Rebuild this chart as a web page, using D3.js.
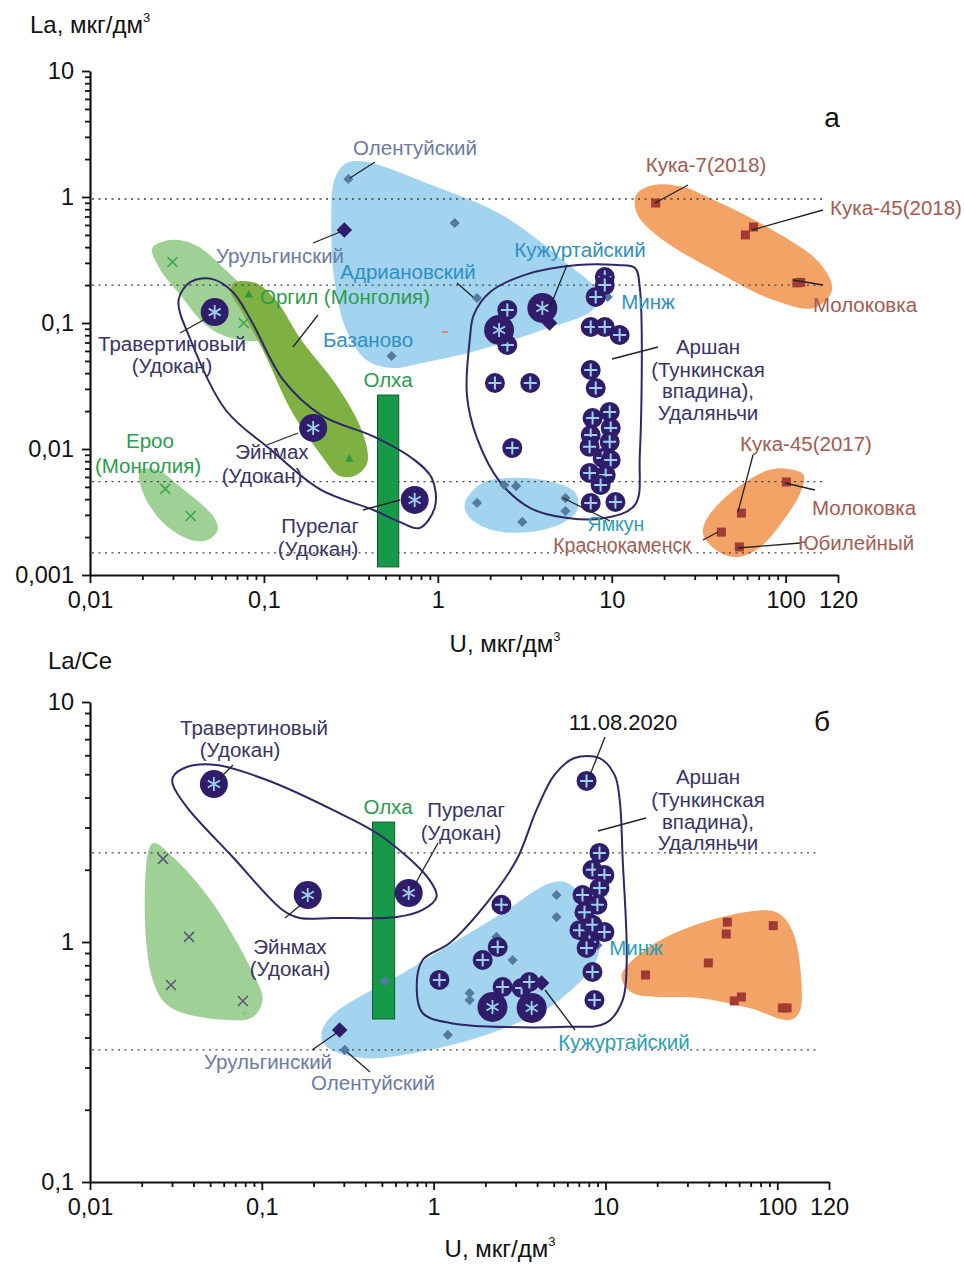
<!DOCTYPE html>
<html>
<head>
<meta charset="utf-8">
<script src="https://cdn.jsdelivr.net/npm/d3@7"></script>
<style>
  body { margin: 0; background: #fff; }
  svg text { font-family: "Liberation Sans", Arial, sans-serif; }
</style>
</head>
<body>
<svg id="chart" width="964" height="1265"></svg>
<script>
// ---------- axes ----------
const uTicks = [0.01, 0.1, 1, 10, 100, 200];
const uTickLabels = ["0,01", "0,1", "1", "10", "100", "120"];
const laTicks = [0.001, 0.01, 0.1, 1, 10];
const laTickLabels = ["0,001", "0,01", "0,1", "1", "10"];
const ratioTicks = [0.1, 1, 10];
const ratioTickLabels = ["0,1", "1", "10"];

// ---------- panel a: La vs U ----------
const aArshan = [[9.12,0.232],[9.12,0.200],[8.09,0.161],[2.51,0.127],[2.51,0.0669],[7.57,0.0929],[9.12,0.0929],
  [11.1,0.0803],[2.13,0.0334],[3.40,0.0334],[7.57,0.0424],[8.09,0.0305],[9.73,0.0197],[7.76,0.0176],[9.86,0.0147],
  [7.57,0.0129],[9.73,0.0114],[7.46,0.0104],[8.87,0.00849],[9.86,0.00818],[7.46,0.00645],[9.23,0.00622],
  [8.63,0.00518],[2.68,0.0102],[7.57,0.00373],[10.5,0.00380]];
const aUdokan = [[0.0521,0.122],[0.192,0.0147],[0.736,0.00394]];
const aBigAst = [[2.25,0.088],[3.99,0.1315]];
const aDiamonds = [[0.306,1.39],[1.25,0.622],[1.68,0.158],[0.542,0.0547],[9.48,0.161],[2.41,0.00518],
  [2.82,0.00508],[1.68,0.00373],[5.42,0.00408],[5.42,0.00322],[3.06,0.00264]];
const aDarkDiamonds = [[0.290,0.547],[4.39,0.100]];
const aErooX = [[0.0298,0.305],[0.0766,0.100],[0.0271,0.00482],[0.0379,0.00294]];
const aOrgilTri = [[0.0818,0.167],[0.310,0.0083]];
const aSquares = [[17.9,0.896],[58.7,0.50],[65.3,0.578],[116,0.208],[122,0.21],
  [101,0.00547],[55.7,0.0031],[42.7,0.00219],[54.2,0.00167]];
const aDash = [[1.10,0.0849]];
const aOlkhaU = [0.45, 0.596];
const aOlkhaLa = [0.00116, 0.0268];
const aRefLines = [0.964, 0.2, 0.0055, 0.0015];

const aBlueBig = [[0.254,1.364],[0.298,1.86],[0.389,1.90],[0.923,1.245],[2.34,0.72],[5.21,0.316],[8.53,0.167],
  [7.76,0.127],[3.99,0.088],[1.57,0.0589],[0.809,0.0482],[0.542,0.0439],[0.389,0.0508],[0.298,0.088],[0.254,0.219],[0.244,0.657]];
const aBlueYamkun = [[1.43,0.00373],[1.80,0.00537],[2.57,0.00589],[4.56,0.00547],[6.19,0.00448],[6.35,0.00328],
  [5.21,0.00259],[3.36,0.00219],[2.05,0.00228],[1.51,0.00289]];
const aGreenUpper = [[0.0228,0.394],[0.0290,0.456],[0.0404,0.416],[0.0603,0.264],[0.0899,0.152],[0.117,0.088],
  [0.0961,0.0733],[0.0645,0.076],[0.0462,0.0964],[0.0331,0.167],[0.0254,0.264]];
const aGreenEroo = [[0.0194,0.00681],[0.0244,0.00681],[0.0331,0.00499],[0.0514,0.00289],[0.0542,0.00228],
  [0.0474,0.0019],[0.0379,0.0019],[0.0264,0.00259],[0.0202,0.00448]];
const aOrgil = [[0.0671,0.208],[0.0899,0.208],[0.117,0.152],[0.164,0.0733],[0.261,0.0322],[0.364,0.0142],
  [0.394,0.00789],[0.340,0.00622],[0.272,0.0061],[0.213,0.00896],[0.143,0.0204],[0.0986,0.0611],[0.0736,0.127],[0.0645,0.176]];
const aOrangeUpper = [[13.8,1.037],[17.3,1.245],[26,1.2],[33.6,1.037],[74.6,0.60],[155,0.305],[185,0.183],
  [145,0.1315],[85.3,0.152],[38.4,0.264],[19.7,0.456],[14.1,0.72]];
const aOrangeLower = [[127,0.00622],[104,0.00694],[79.7,0.00681],[48.1,0.00448],[34.9,0.00273],[33.6,0.00208],
  [42.1,0.0015],[53.5,0.00139],[71.6,0.00167],[97.3,0.00273],[122,0.00456]];
const aUdokanOutline = [[0.0323,0.152],[0.0379,0.212],[0.0507,0.223],[0.0662,0.176],[0.0841,0.1057],[0.129,0.0353],
  [0.213,0.0186],[0.432,0.0125],[0.708,0.00849],[0.923,0.00589],[0.962,0.00347],[0.787,0.00236],[0.603,0.00264],
  [0.427,0.00328],[0.213,0.00473],[0.110,0.00982],[0.0603,0.0204],[0.0379,0.0733]];
const aArshanOutline = [[1.61,0.116],[2.00,0.176],[3.14,0.240],[6.35,0.288],[10.8,0.288],[13.6,0.273],[14.5,0.190],
  [14.5,0.00896],[13.6,0.0036],[9.12,0.00283],[5.57,0.00283],[3.40,0.0034],[2.28,0.00547],[1.68,0.0122],[1.47,0.0268],[1.53,0.076]];

// ---------- panel b: La/Ce vs U ----------
const bArshan = [[7.76,4.69],[9.23,2.35],[8.40,2.0],[9.86,1.90],[9.23,1.68],[7.35,1.57],[8.98,1.43],[7.55,1.33],
  [7.06,1.12],[8.40,1.18],[9.86,1.10],[8.07,1.0],[7.76,0.944],[2.48,1.43],[2.36,0.953],[1.93,0.841],[1.08,0.695],
  [2.52,0.649],[3.25,0.643],[3.61,0.681],[8.40,0.75],[8.63,0.573]];
const bUdokan = [[0.0526,4.55],[0.185,1.57],[0.716,1.60]];
const bBigAst = [[2.20,0.536],[3.72,0.531]];
const bDiamonds = [[5.19,1.57],[5.19,1.27],[2.32,1.05],[2.88,0.841],[1.62,0.613],[1.62,0.573],[1.21,0.41],
  [0.519,0.688],[8.98,0.97],[0.304,0.355]];
const bDarkDiamonds = [[0.284,0.43],[4.25,0.675]];
const bErooX = [[0.0266,2.22],[0.0377,1.05],[0.0296,0.662],[0.0776,0.568]];
const bSmallPlus = [[0.0794,0.506]];
const bSquares = [[51.2,1.21],[50.5,1.08],[94.8,1.17],[39.7,0.818],[17.1,0.729],[56.2,0.568],[61.8,0.59],[107,0.531],[114,0.531]];
const bOlkhaU = [0.441, 0.593];
const bOlkhaR = [0.478, 3.16];
const bRefLines = [2.35, 0.355];

const bGreen = [[0.0232,2.58],[0.0209,1.69],[0.0232,0.695],[0.0292,0.536],[0.0627,0.473],[0.0887,0.487],
  [0.101,0.573],[0.0887,0.743],[0.0519,1.45],[0.0304,2.26]];
const bBlue = [[0.223,0.422],[0.266,0.506],[0.634,0.729],[1.24,0.971],[2.42,1.30],[5.05,1.78],[6.60,1.68],
  [9.23,0.926],[5.41,0.573],[2.42,0.43],[0.948,0.355],[0.372,0.329],[0.232,0.372]];
const bOrange = [[12.4,0.715],[13.8,0.818],[22.6,1.05],[54.7,1.30],[98.6,1.33],[122,1.12],[138,0.695],
  [134,0.506],[117,0.473],[68.7,0.531],[35.2,0.585],[14.4,0.613]];
const bUdokanOutline = [[0.0304,4.87],[0.0366,5.36],[0.0547,5.46],[0.107,4.73],[0.259,3.55],[0.505,2.74],
  [0.948,1.81],[1.04,1.54],[0.862,1.36],[0.609,1.27],[0.259,1.26],[0.166,1.26],[0.132,1.36],[0.0677,2.26],[0.0366,3.65],[0.0304,4.51]];
const bArshanOutline = [[6.60,5.84],[9.23,5.84],[11.3,4.97],[12.1,3.91],[12.6,2.20],[13.3,0.841],[12.6,0.573],
  [10.1,0.46],[5.93,0.443],[1.24,0.46],[0.862,0.506],[0.797,0.649],[0.862,0.841],[1.24,0.99],[2.03,1.45],[3.04,2.20],[3.97,3.55],[5.05,4.97]];

// ---------- colours ----------
const navy = "#2f1d6c", crossBlue = "#9fd0ee", slate = "#557aa0", brick = "#a23b33";
const cBlue = "#a3d4ef", cLightGreen = "#9fd196", cOrgil = "#7fb142", cOrange = "#f4a367", cOlkha = "#17994a";
const tGray = "#6b7aa3", tBlue = "#2f8fc4", tGreen = "#2a9d4b", tDark = "#3a3366", tBrick = "#a65a50", tTeal = "#2a9fb5";

const svg = d3.select("#chart");

function drawPanel(cfg) {
  const x = d3.scaleLog().domain([0.01, 200]).range(cfg.xRange);
  const y = d3.scaleLog().domain(cfg.yDomain).range(cfg.yRange);
  const g = svg.append("g");
  const P = d => [x(d[0]), y(d[1])];
  const blob = d3.line().curve(d3.curveCatmullRomClosed.alpha(0.5));

  cfg.regions.forEach(r => {
    g.append("path").attr("d", blob(r.pts.map(P))).attr("fill", r.fill);
  });

  // dotted reference lines
  g.selectAll(".ref").data(cfg.refLines).enter().append("line")
    .attr("x1", x(0.01) + 2).attr("x2", x(170))
    .attr("y1", d => y(d)).attr("y2", d => y(d))
    .attr("stroke", "#444").attr("stroke-width", 1.3).attr("stroke-dasharray", "2,4.5");

  // Olkha bar
  g.append("rect")
    .attr("x", x(cfg.olkhaU[0])).attr("width", x(cfg.olkhaU[1]) - x(cfg.olkhaU[0]))
    .attr("y", y(cfg.olkhaV[1])).attr("height", y(cfg.olkhaV[0]) - y(cfg.olkhaV[1]))
    .attr("fill", cOlkha).attr("stroke", "#0d5a2b").attr("stroke-width", 1);

  cfg.outlines.forEach(o => {
    g.append("path").attr("d", blob(o.map(P))).attr("fill", "none")
      .attr("stroke", "#2e2866").attr("stroke-width", 2);
  });

  const sym = (type, size) => d3.symbol().type(type).size(size)();

  // square diamonds (rotated squares)
  g.selectAll(".dia").data(cfg.diamonds).enter().append("rect")
    .attr("x", -3.6).attr("y", -3.6).attr("width", 7.2).attr("height", 7.2).attr("fill", slate)
    .attr("transform", d => `translate(${P(d)}) rotate(45)`);

  g.selectAll(".sq").data(cfg.squares).enter().append("rect")
    .attr("x", d => x(d[0]) - 4.5).attr("y", d => y(d[1]) - 4.5)
    .attr("width", 9).attr("height", 9).attr("fill", brick);

  g.selectAll(".tri").data(cfg.triangles || []).enter().append("path")
    .attr("d", sym(d3.symbolTriangle, 32)).attr("fill", "#2a9a3c")
    .attr("transform", d => `translate(${P(d)})`);

  g.selectAll(".dash").data(cfg.dashes || []).enter().append("line")
    .attr("x1", d => x(d[0]) - 3).attr("x2", d => x(d[0]) + 3)
    .attr("y1", d => y(d[1])).attr("y2", d => y(d[1]))
    .attr("stroke", "#e08a50").attr("stroke-width", 2);

  const xm = g.selectAll(".xm").data(cfg.crosses).enter().append("g")
    .attr("transform", d => `translate(${P(d)})`);
  xm.append("path").attr("d", "M-5,-5L5,5M-5,5L5,-5")
    .attr("stroke", cfg.crossColor).attr("stroke-width", 1.6);

  g.selectAll(".sp").data(cfg.smallPlus || []).enter().append("path")
    .attr("d", "M-3,0H3M0,-3V3").attr("stroke", "#8fbf80").attr("stroke-width", 1)
    .attr("transform", d => `translate(${P(d)})`);

  // Arshan circles with plus
  const cp = g.selectAll(".cp").data(cfg.arshan).enter().append("g")
    .attr("transform", d => `translate(${P(d)})`);
  cp.append("circle").attr("r", 10).attr("fill", navy);
  cp.append("path").attr("d", "M-6.5,0H6.5M0,-6.5V6.5").attr("stroke", crossBlue).attr("stroke-width", 2);

  // big circles with asterisk (ж)
  const ast = "M0,-7V7M-6,-3.5L6,3.5M-6,3.5L6,-3.5";
  const ca = g.selectAll(".ca").data(cfg.udokan.concat(cfg.bigAst)).enter().append("g")
    .attr("transform", d => `translate(${P(d)})`);
  ca.append("circle").attr("r", (d, i) => i < cfg.udokan.length ? 14 : 15).attr("fill", navy);
  ca.append("path").attr("d", ast).attr("stroke", crossBlue).attr("stroke-width", 1.8);

  g.selectAll(".dd").data(cfg.darkDiamonds).enter().append("rect")
    .attr("x", -5.5).attr("y", -5.5).attr("width", 11).attr("height", 11).attr("fill", navy)
    .attr("transform", d => `translate(${P(d)}) rotate(45)`);

  // axes
  const fmtX = v => uTickLabels[uTicks.indexOf(v)];
  const fmtY = v => cfg.yLabels[cfg.yTicks.indexOf(v)];
  const minor = (lo, hi) => {
    const out = [];
    for (let d = lo; d < hi; d *= 10) for (let k = 2; k <= 9; k++) out.push(d * k);
    return out;
  };
  const y0 = cfg.yRange[0];
  g.append("g").attr("transform", `translate(0,${y0})`)
    .call(d3.axisBottom(x).tickValues(uTicks).tickFormat(fmtX).tickSize(8).tickSizeOuter(0).tickPadding(8));
  g.append("g").attr("transform", `translate(0,${y0})`)
    .call(d3.axisBottom(x).tickValues(minor(0.01, 100)).tickFormat("").tickSize(5).tickSizeOuter(0))
    .select(".domain").remove();
  g.append("g").attr("transform", `translate(${cfg.xRange[0]},0)`)
    .call(d3.axisLeft(y).tickValues(cfg.yTicks).tickFormat(fmtY).tickSize(8).tickSizeOuter(0).tickPadding(8));
  g.append("g").attr("transform", `translate(${cfg.xRange[0]},0)`)
    .call(d3.axisLeft(y).tickValues(minor(cfg.yDomain[0], cfg.yDomain[1])).tickFormat("").tickSize(5).tickSizeOuter(0))
    .select(".domain").remove();
  g.selectAll(".domain").attr("stroke", "#111").attr("stroke-width", 2.2);
  g.selectAll(".tick line").attr("stroke", "#111").attr("stroke-width", 1.8);
  g.selectAll(".tick text").attr("font-size", 23.5).attr("fill", "#111")
    .attr("font-family", "'Liberation Sans', Arial, sans-serif");

  // leader lines and labels
  g.selectAll(".lead").data(cfg.leaders).enter().append("line")
    .attr("x1", d => d[0]).attr("y1", d => d[1]).attr("x2", d => d[2]).attr("y2", d => d[3])
    .attr("stroke", "#222").attr("stroke-width", 1.3);
  g.selectAll(".lab").data(cfg.labels).enter().append("text")
    .attr("x", d => d[1]).attr("y", d => d[2]).attr("fill", d => d[3])
    .attr("font-size", d => d[4] || 20.5).attr("text-anchor", "middle").text(d => d[0]);

  cfg.titles.forEach(t => {
    const tx = g.append("text").attr("x", t.x).attr("y", t.y).attr("font-size", 24)
      .attr("fill", "#111").attr("text-anchor", t.anchor);
    tx.append("tspan").text(t.text);
    if (t.sup) tx.append("tspan").attr("font-size", 13).attr("dy", -11).text(t.sup);
  });
}

drawPanel({
  xRange: [90, 838], yDomain: [0.001, 10], yRange: [575, 71],
  yTicks: laTicks, yLabels: laTickLabels,
  regions: [
    { pts: aBlueBig, fill: cBlue }, { pts: aBlueYamkun, fill: cBlue },
    { pts: aGreenUpper, fill: cLightGreen }, { pts: aGreenEroo, fill: cLightGreen },
    { pts: aOrgil, fill: cOrgil }, { pts: aOrangeUpper, fill: cOrange }, { pts: aOrangeLower, fill: cOrange }
  ],
  refLines: aRefLines, olkhaU: aOlkhaU, olkhaV: aOlkhaLa,
  outlines: [aUdokanOutline, aArshanOutline],
  diamonds: aDiamonds, squares: aSquares, triangles: aOrgilTri, dashes: aDash,
  crosses: aErooX, crossColor: "#3aa84e",
  arshan: aArshan, udokan: aUdokan, bigAst: aBigAst, darkDiamonds: aDarkDiamonds,
  leaders: [[375,162,350,178],[313,243,340,232],[457,283,473,297],[567,265,550,307],[318,315,293,347],
    [180,333,207,318],[267,445,298,433],[363,510,400,500],[658,347,612,359],[610,521,563,498],
    [703,540,718,532],[800,543,738,548],[815,490,785,483],[753,455,738,512],[688,185,655,203],
    [823,210,752,230],[823,285,793,280]],
  labels: [["Олентуйский",415,155,tGray],["Урульгинский",280,263,tGray],["Адриановский",408,279,tBlue],
    ["Кужуртайский",580,257,tBlue],["Минж",648,309,tBlue],["Оргил (Монголия)",345,304,tGreen],
    ["Базаново",368,347,tBlue],["Олха",388,387,tGreen],
    ["Травертиновый",172,351,tDark],["(Удокан)",172,373,tDark],["Эйнмах",272,459,tDark],["(Удокан)",262,483,tDark],
    ["Пурелаг",320,533,tDark],["(Удокан)",318,556,tDark],["Ероо",150,448,tGreen],["(Монголия)",148,473,tGreen],
    ["Аршан",708,354,tDark],["(Тункинская",708,377,tDark],["впадина),",708,398,tDark],["Удаляньчи",708,420,tDark],
    ["Ямкун",616,531,tTeal,19.5],["Краснокаменск",622,552,tBrick,19.5],["Юбилейный",856,550,tBrick],
    ["Молоковка",864,515,tBrick],["Кука-45(2017)",806,451,tBrick],["Кука-7(2018)",706,172,tBrick],
    ["Кука-45(2018)",896,215,tBrick],["Молоковка",865,312,tBrick],["а",832,127,"#111",28]],
  titles: [{ text: "La, мкг/дм", sup: "3", x: 30, y: 33, anchor: "start" },
           { text: "U, мкг/дм", sup: "3", x: 505, y: 652, anchor: "middle" }]
});

drawPanel({
  xRange: [90, 829], yDomain: [0.1, 10], yRange: [1182, 702],
  yTicks: ratioTicks, yLabels: ratioTickLabels,
  regions: [
    { pts: bBlue, fill: cBlue }, { pts: bGreen, fill: cLightGreen }, { pts: bOrange, fill: cOrange }
  ],
  refLines: bRefLines, olkhaU: bOlkhaU, olkhaV: bOlkhaR,
  outlines: [bUdokanOutline, bArshanOutline],
  diamonds: bDiamonds, squares: bSquares, smallPlus: bSmallPlus,
  crosses: bErooX, crossColor: "#5c5a78",
  arshan: bArshan, udokan: bUdokan, bigAst: bBigAst, darkDiamonds: bDarkDiamonds,
  leaders: [[233,765,220,778],[438,843,413,888],[285,918,303,903],[605,737,590,775],[646,818,598,831],
    [575,1030,545,990],[312,1050,338,1032],[370,1072,347,1052]],
  labels: [["Травертиновый",254,735,tDark],["(Удокан)",240,757,tDark],["Олха",388,814,tGreen],
    ["Пурелаг",466,817,tDark],["(Удокан)",461,840,tDark],["Эйнмах",290,954,tDark],["(Удокан)",290,976,tDark],
    ["11.08.2020",623,730,"#111",22],["Аршан",708,784,tDark],["(Тункинская",708,807,tDark],
    ["впадина),",708,829,tDark],["Удаляньчи",708,850,tDark],["Минж",636,955,tTeal],
    ["Кужуртайский",624,1049,tTeal],["Урульгинский",268,1069,tGray],["Олентуйский",373,1090,tGray],
    ["б",822,731,"#111",28]],
  titles: [{ text: "La/Ce", x: 48, y: 669, anchor: "start" },
           { text: "U, мкг/дм", sup: "3", x: 500, y: 1257, anchor: "middle" }]
});
</script>
</body>
</html>
